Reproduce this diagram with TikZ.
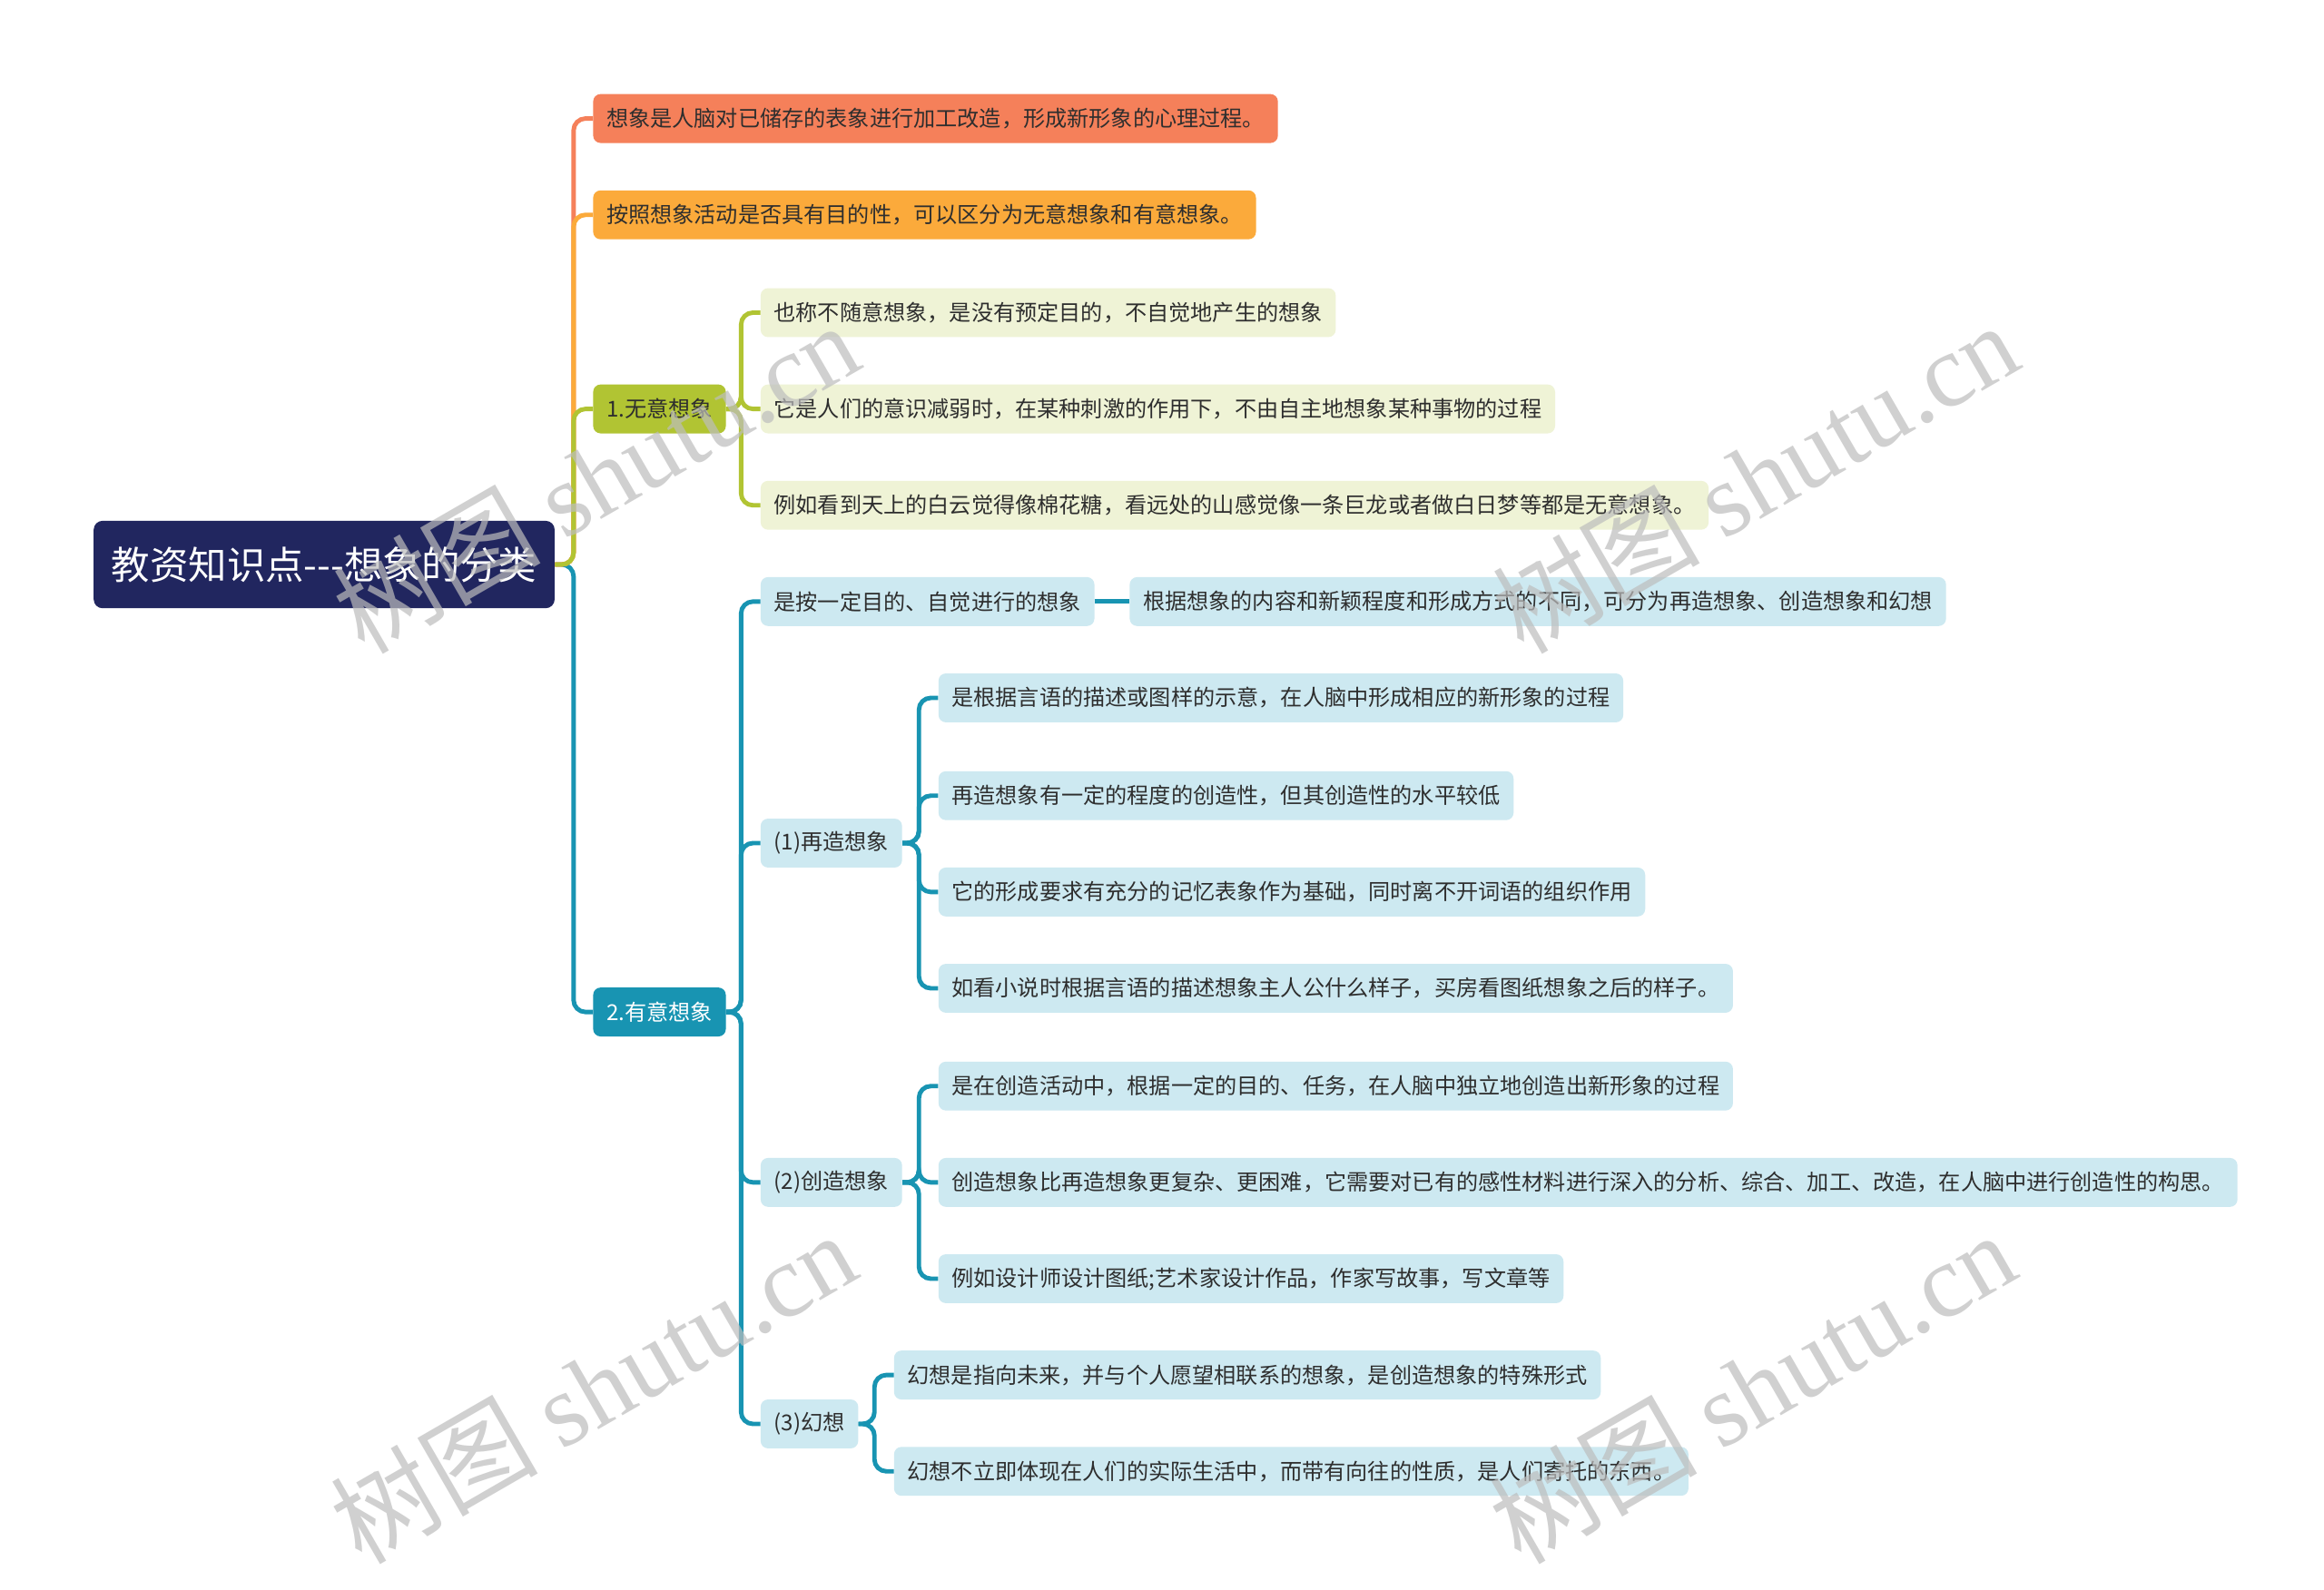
\documentclass[tikz,border=0pt]{standalone}
\usepackage{fontspec}
\setmainfont{Noto Sans CJK SC}
\newfontfamily\wmfont{Liberation Serif}
\newfontfamily\wmcjk{Noto Sans CJK SC}
\definecolor{navy}{HTML}{21265F}
\definecolor{cA}{HTML}{F5805A}
\definecolor{cB}{HTML}{FBAA3B}
\definecolor{cC}{HTML}{B1C433}
\definecolor{cD}{HTML}{1894B2}
\definecolor{lC}{HTML}{EFF3D6}
\definecolor{lD}{HTML}{CDE9F1}
\definecolor{txt}{HTML}{2E2E2E}
\definecolor{wm}{HTML}{BDBDBD}
\tikzset{
  box/.style={rounded corners=5pt, minimum height=33pt, inner xsep=9pt, inner ysep=0pt,
    anchor=west, font=\fontsize{14.8}{14.8}\selectfont, text=txt},
  boxA/.style={box, fill=cA},
  boxB/.style={box, fill=cB},
  boxC/.style={box, fill=cC},
  boxD/.style={box, fill=cD, text=white},
  leafC/.style={box, fill=lC},
  leafD/.style={box, fill=lD},
  rootbox/.style={rounded corners=6pt, fill=navy, text=white, anchor=west,
    minimum width=311pt, minimum height=59pt, font=\fontsize{26}{26}\selectfont},
  conn/.style={line width=3pt, rounded corners=8pt},
  wmark/.style={text=wm, opacity=0.7, rotate=30, font=\fontsize{70}{70}\selectfont}
}
\begin{document}
\begin{tikzpicture}[x=1pt,y=-1pt]
\fill[white] (0,0) rectangle (1568,1073);
\useasboundingbox (0,0) rectangle (1568,1073);

% root
\node[rootbox] (root) at (63,381) {教资知识点-{}-{}-想象的分类};

% level 1
\node[boxA] (A) at (400,80) {想象是人脑对已储存的表象进行加工改造，形成新形象的心理过程。};
\node[boxB] (B) at (400,145) {按照想象活动是否具有目的性，可以区分为无意想象和有意想象。};
\node[boxC] (C) at (400,276) {1.无意想象};
\node[boxD] (D) at (400,683) {2.有意想象};

% C children
\node[leafC] (C1) at (513,211) {也称不随意想象，是没有预定目的，不自觉地产生的想象};
\node[leafC] (C2) at (513,276) {它是人们的意识减弱时，在某种刺激的作用下，不由自主地想象某种事物的过程};
\node[leafC] (C3) at (513,341) {例如看到天上的白云觉得像棉花糖，看远处的山感觉像一条巨龙或者做白日梦等都是无意想象。};

% D children
\node[leafD] (D1) at (513,406) {是按一定目的、自觉进行的想象};
\node[leafD] (D1a) at (762,406) {根据想象的内容和新颖程度和形成方式的不同，可分为再造想象、创造想象和幻想};
\node[leafD] (D2) at (513,569) {(1)再造想象};
\node[leafD] (D3) at (513,798) {(2)创造想象};
\node[leafD] (D4) at (513,961) {(3)幻想};

\node[leafD] (D21) at (633,471) {是根据言语的描述或图样的示意，在人脑中形成相应的新形象的过程};
\node[leafD] (D22) at (633,537) {再造想象有一定的程度的创造性，但其创造性的水平较低};
\node[leafD] (D23) at (633,602) {它的形成要求有充分的记忆表象作为基础，同时离不开词语的组织作用};
\node[leafD] (D24) at (633,667) {如看小说时根据言语的描述想象主人公什么样子，买房看图纸想象之后的样子。};

\node[leafD] (D31) at (633,733) {是在创造活动中，根据一定的目的、任务，在人脑中独立地创造出新形象的过程};
\node[leafD] (D32) at (633,798) {创造想象比再造想象更复杂、更困难，它需要对已有的感性材料进行深入的分析、综合、加工、改造，在人脑中进行创造性的构思。};
\node[leafD] (D33) at (633,863) {例如设计师设计图纸;艺术家设计作品，作家写故事，写文章等};

\node[leafD] (D41) at (603,928) {幻想是指向未来，并与个人愿望相联系的想象，是创造想象的特殊形式};
\node[leafD] (D42) at (603,993) {幻想不立即体现在人们的实际生活中，而带有向往的性质，是人们寄托的东西。};

% bus coordinates
\coordinate (rbus) at (387,381);
\coordinate (cbus) at (500,276);
\coordinate (dbus) at (500,683);
\coordinate (d2bus) at (620,569);
\coordinate (d3bus) at (620,798);
\coordinate (d4bus) at (590,961);

% connectors
\draw[conn, cD] (root.east) -- (rbus) |- (D.west);
\draw[conn, cA] (root.east) -- (rbus) |- (A.west);
\draw[conn, cB] (root.east) -- (rbus) |- (B.west);
\draw[conn, cC] (root.east) -- (rbus) |- (C.west);

\foreach \n in {C1,C2,C3} \draw[conn, cC] (C.east) -- (cbus) |- (\n.west);
\foreach \n in {D1,D2,D3,D4} \draw[conn, cD] (D.east) -- (dbus) |- (\n.west);
\draw[conn, cD] (D1.east) -- (D1a.west);
\foreach \n in {D21,D22,D23,D24} \draw[conn, cD] (D2.east) -- (d2bus) |- (\n.west);
\foreach \n in {D31,D32,D33} \draw[conn, cD] (D3.east) -- (d3bus) |- (\n.west);
\foreach \n in {D41,D42} \draw[conn, cD] (D4.east) -- (d4bus) |- (\n.west);

% watermarks
\node[wmark] (w1) at (402,322) {{\wmcjk 树图} {\wmfont shutu.cn}};
\node[wmark] (w2) at (1184,322) {{\wmcjk 树图} {\wmfont shutu.cn}};
\node[wmark] (w3) at (400,936) {{\wmcjk 树图} {\wmfont shutu.cn}};
\node[wmark] (w4) at (1182,936) {{\wmcjk 树图} {\wmfont shutu.cn}};
\end{tikzpicture}
\end{document}
